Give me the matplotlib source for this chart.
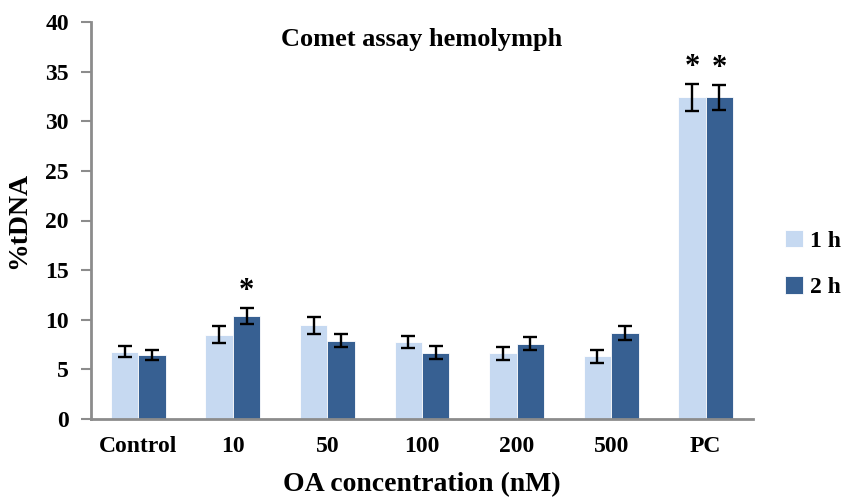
import numpy as np
import matplotlib
matplotlib.use('Agg')
import matplotlib.pyplot as plt

plt.rcParams['font.family'] = ['Liberation Serif', 'DejaVu Serif']
plt.rcParams['font.weight'] = 'bold'

categories = ['Control', '10', '50', '100', '200', '500', 'PC']
tdna_1h = [6.8, 8.5, 9.45, 7.75, 6.6, 6.3, 32.4]
err_1h = [0.6, 0.85, 0.85, 0.6, 0.65, 0.7, 1.4]
tdna_2h = [6.45, 10.4, 7.9, 6.7, 7.6, 8.7, 32.4]
err_2h = [0.55, 0.8, 0.65, 0.65, 0.65, 0.7, 1.3]
signif_1h = [False, False, False, False, False, False, True]
signif_2h = [False, True, False, False, False, False, True]

c1 = '#C6D9F1'
c2 = '#376092'
axis_gray = '#8C8C8C'

fig = plt.figure(figsize=(8.43, 4.99), dpi=100)
ax = fig.add_axes([91 / 843, 80 / 499, 662 / 843, 397 / 499])

x = np.arange(len(categories)) + 0.5
w = 0.29
ebar = dict(ecolor='black', elinewidth=1.7, capsize=5, capthick=1.7)
ax.bar(x - w / 2, tdna_1h, w, color=c1, edgecolor='white', linewidth=0.6,
       yerr=err_1h, error_kw=ebar, label='1 h')
ax.bar(x + w / 2, tdna_2h, w, color=c2, edgecolor='white', linewidth=0.6,
       yerr=err_2h, error_kw=ebar, label='2 h')

# significance stars
for xi, v, e, s in zip(x - w / 2, tdna_1h, err_1h, signif_1h):
    if s:
        ax.text(xi, v + e + 0.2, '*', ha='center', va='bottom', fontsize=22, fontweight='bold')
for xi, v, e, s in zip(x + w / 2, tdna_2h, err_2h, signif_2h):
    if s:
        ax.text(xi, v + e + 0.2, '*', ha='center', va='bottom', fontsize=22, fontweight='bold')

ax.set_xlim(0, len(categories))
ax.set_ylim(0, 40)
ax.set_yticks(range(0, 41, 5))
ax.set_xticks(x)
ax.set_xticklabels(categories, fontsize=17, fontweight='bold')
ax.tick_params(axis='x', length=0, pad=12)
ax.tick_params(axis='y', length=7, width=1.5, color=axis_gray, labelsize=17, pad=9)
for lbl in ax.get_yticklabels():
    lbl.set_fontweight('bold')

for sp in ['top', 'right']:
    ax.spines[sp].set_visible(False)
for sp in ['left', 'bottom']:
    ax.spines[sp].set_color(axis_gray)
    ax.spines[sp].set_linewidth(2)

ax.set_xlabel('OA concentration (nM)', fontsize=20, fontweight='bold', labelpad=11)
ax.set_ylabel('%tDNA', fontsize=20, fontweight='bold', labelpad=10)
ax.text(0.5, 0.955, 'Comet assay hemolymph', transform=ax.transAxes,
        ha='center', va='center', fontsize=19, fontweight='bold')

fig.legend(loc='center left', bbox_to_anchor=(785 / 843, 1 - 264 / 499), frameon=False,
           prop=dict(size=17, weight='bold'), handlelength=0.75, handleheight=0.75,
           handletextpad=0.3, labelspacing=1.05, borderaxespad=0, borderpad=0)

fig.savefig('out.png', dpi=100)
